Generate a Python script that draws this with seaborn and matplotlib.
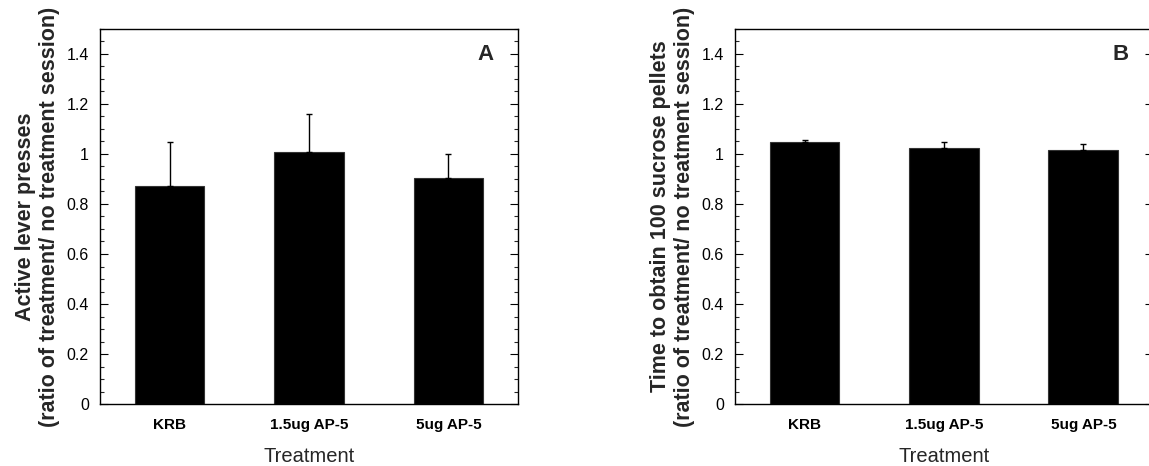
import numpy as np
import pandas as pd
import matplotlib
matplotlib.use("Agg")
import matplotlib.pyplot as plt
from matplotlib.ticker import MultipleLocator, FuncFormatter
import seaborn as sns

treatments = ["KRB", "1.5ug AP-5", "5ug AP-5"]
lever_means = [0.870, 1.008, 0.903]
lever_sem = [0.177, 0.152, 0.095]
time_means = [1.047, 1.023, 1.014]
time_sem = [0.011, 0.024, 0.025]

ylabels = ["Active lever presses\n(ratio of treatment/ no treatment session)",
           "Time to obtain 100 sucrose pellets\n(ratio of treatment/ no treatment session)"]
panel_letters = ["A", "B"]
xlabel = "Treatment"

sns.set_theme(style="white")
plt.rcParams['font.family'] = ['Liberation Sans', 'DejaVu Sans']

W, H = 1149, 466
fig = plt.figure(figsize=(W / 100, H / 100), dpi=100)

def px_axes(left, right, top, bottom):
    return fig.add_axes([left / W, (H - bottom) / H, (right - left) / W, (bottom - top) / H])

axA = px_axes(100, 518, 29, 404)
axB = px_axes(735, 1153, 29, 404)

for ax, means, errs, ylab, letter in [
    (axA, lever_means, lever_sem, ylabels[0], panel_letters[0]),
    (axB, time_means, time_sem, ylabels[1], panel_letters[1]),
]:
    df = pd.DataFrame({"Treatment": treatments, "Value": means})
    sns.barplot(data=df, x="Treatment", y="Value", color="black", width=0.5,
                errorbar=None, ax=ax, saturation=1, edgecolor="#333333", linewidth=0.8)
    ax.errorbar(np.arange(len(means)), means, yerr=[np.zeros(len(errs)), errs],
                fmt="none", ecolor="black", elinewidth=1.0, capsize=2.5, capthick=1.0)
    ax.set_xlim(-0.5, 2.5)
    ax.set_ylim(0, 1.5)
    ax.yaxis.set_major_locator(MultipleLocator(0.2))
    ax.yaxis.set_minor_locator(MultipleLocator(0.05))
    ax.yaxis.set_major_formatter(FuncFormatter(lambda v, p: "%g" % round(v, 2) if v <= 1.41 else ""))
    ax.tick_params(axis="y", which="major", direction="in", length=6, width=0.8,
                   left=True, right=True, labelsize=11.5, pad=8, colors="black")
    ax.tick_params(axis="y", which="minor", direction="in", length=3, width=0.8,
                   left=True, right=True)
    ax.tick_params(axis="x", length=0, labelsize=11, pad=10, colors="black")
    for lbl in ax.get_xticklabels():
        lbl.set_fontweight("bold")
    for s in ax.spines.values():
        s.set_visible(True)
        s.set_color("black")
        s.set_linewidth(1.0)
    ax.set_ylabel(ylab, fontsize=15.5, fontweight="bold", labelpad=5, linespacing=1.16)
    ax.set_xlabel(xlabel, fontsize=14.5, labelpad=11)
    ax.text(0.922, 0.933, letter, transform=ax.transAxes, fontsize=16, fontweight="bold",
            ha="center", va="center")
    ax.grid(False)

fig.savefig("out.png", dpi=100)
